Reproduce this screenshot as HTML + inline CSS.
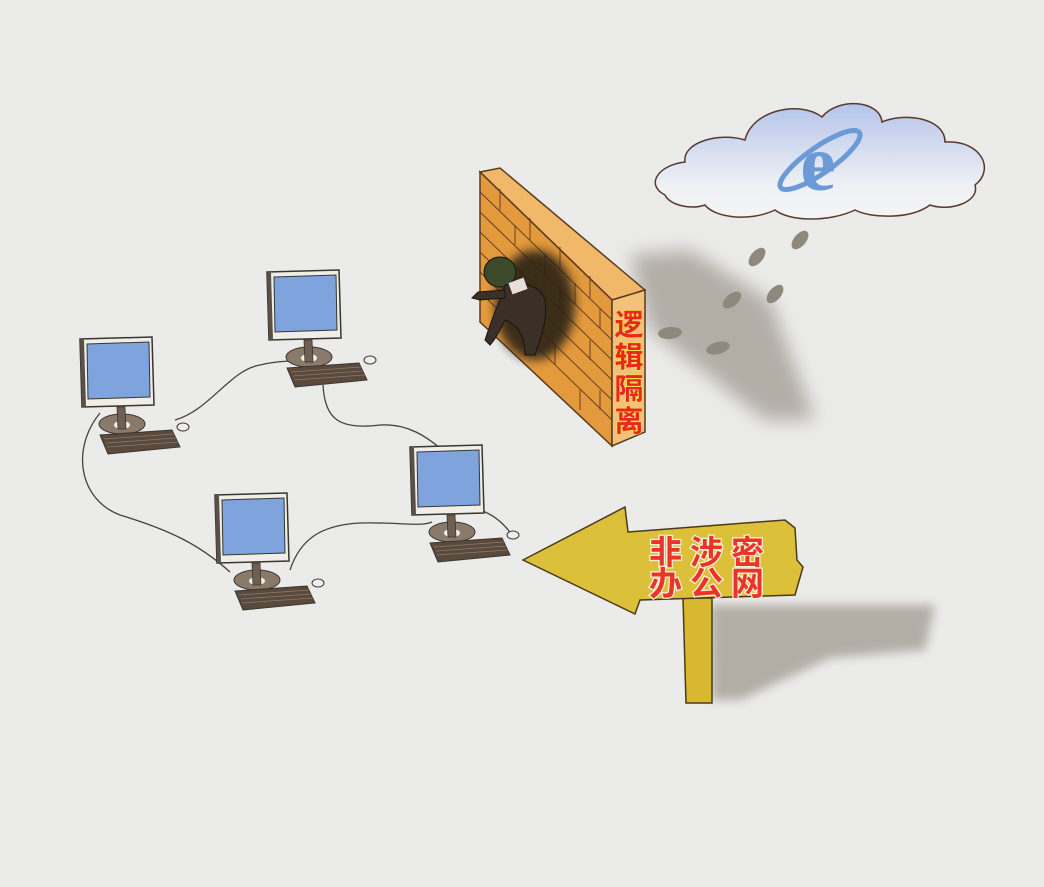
<!DOCTYPE html>
<html><head><meta charset="utf-8"><style>
html,body{margin:0;padding:0;background:#ebebea;}
svg{display:block}
</style></head><body>
<svg width="1044" height="887" viewBox="0 0 1044 887" xmlns="http://www.w3.org/2000/svg">
<defs>
<filter id="blur" x="-20%" y="-20%" width="140%" height="140%"><feGaussianBlur stdDeviation="9"/></filter>
<filter id="blur2"><feGaussianBlur stdDeviation="5"/></filter>
<linearGradient id="cloud" x1="0" y1="0" x2="0" y2="1"><stop offset="0" stop-color="#b4c4ea"/><stop offset="0.7" stop-color="#eef0f4"/><stop offset="1" stop-color="#f5f5f5"/></linearGradient>
<g id="pc">
  <polygon points="0,2 72,0 74,68 2,70" fill="#efefe8" stroke="#3a3530" stroke-width="1.5"/>
  <polygon points="0,2 4,3 6,70 2,70" fill="#5a5048"/>
  <polygon points="7,7 69,5 70,60 8,62" fill="#7fa3dc" stroke="#3a3530" stroke-width="1"/>
  <ellipse cx="42" cy="87" rx="23" ry="10" fill="#8a7a6a" stroke="#3a3530" stroke-width="1"/>
  <ellipse cx="42" cy="88" rx="8" ry="4" fill="#efefe8"/>
  <polygon points="37,70 45,70 46,92 38,92" fill="#6e5f52" stroke="#3a3530" stroke-width="0.8"/>
  <polygon points="20,98 92,93 100,110 28,117" fill="#5a4a3e" stroke="#3a3530" stroke-width="1"/>
  <path d="M24,102 L94,97 M26,106 L96,101 M27,110 L98,105" stroke="#8a7a6a" stroke-width="0.8"/>
  <ellipse cx="103" cy="90" rx="6" ry="4" fill="#eee" stroke="#3a3530" stroke-width="1"/>
</g>
</defs>
<rect width="1044" height="887" fill="#ebebea"/>

<polygon points="630,255 690,250 770,300 815,420 765,420 650,330" fill="#a09a90" filter="url(#blur)" opacity="0.75"/>
<g fill="#8f887c">
<ellipse cx="800" cy="240" rx="6" ry="11" transform="rotate(40 800 240)"/>
<ellipse cx="757" cy="257" rx="6" ry="11" transform="rotate(40 757 257)"/>
<ellipse cx="775" cy="294" rx="6" ry="11" transform="rotate(40 775 294)"/>
<ellipse cx="732" cy="300" rx="6" ry="11" transform="rotate(50 732 300)"/>
<ellipse cx="670" cy="333" rx="6" ry="12" transform="rotate(85 670 333)"/>
<ellipse cx="718" cy="348" rx="6" ry="12" transform="rotate(75 718 348)"/>
</g>

<path d="M665,195 C645,185 658,165 685,162 C682,142 720,132 745,140 C752,110 800,100 822,117 C838,97 880,100 882,122 C905,112 945,118 945,142 C982,140 995,170 975,185 C980,202 950,212 930,205 C910,220 870,218 855,210 C830,222 790,222 775,210 C750,222 715,218 705,205 C690,210 670,205 665,195 Z" fill="url(#cloud)" stroke="#5a3a30" stroke-width="1.5"/>
<g>
<text x="818" y="190" font-family="Liberation Serif, serif" font-weight="bold" font-size="80" fill="#6b9ad6" text-anchor="middle">e</text>
<ellipse cx="820" cy="160" rx="48" ry="13" transform="rotate(-35 820 160)" fill="none" stroke="#6b9ad6" stroke-width="5"/>
</g>

<polygon points="710,605 935,605 925,650 830,658 740,700 712,700" fill="#a09a90" filter="url(#blur2)" opacity="0.75"/>

<g fill="none" stroke="#4a4038" stroke-width="1.3">
<path d="M175,420 C210,410 230,370 260,365 C280,360 290,362 300,360"/>
<path d="M323,385 C325,420 340,430 380,425 C410,423 430,440 440,448"/>
<path d="M100,413 C70,450 80,500 120,515 C170,530 200,545 230,572"/>
<path d="M290,570 C300,540 320,525 360,523 C400,522 420,527 432,522"/>
<path d="M480,510 C495,515 505,525 512,535"/>
</g>

<use href="#pc" x="80" y="337"/>
<use href="#pc" x="267" y="270"/>
<use href="#pc" x="410" y="445"/>
<use href="#pc" x="215" y="493"/>

<polygon points="480,172 500,168 645,290 612,300" fill="#f0b868" stroke="#5a3a20" stroke-width="1.5"/>
<polygon points="480,172 612,300 612,446 480,322" fill="#e39a3c" stroke="#5a3a20" stroke-width="1.5"/>
<g stroke="#6a4020" stroke-width="1" fill="none">
<path d="M480,192 L612,320 M480,212 L612,340 M480,232 L612,360 M480,252 L612,380 M480,272 L612,400 M480,292 L612,420"/>
<path d="M500,189 L500,210 M530,218 L530,240 M560,247 L560,268 M590,276 L590,298 M515,225 L515,245 M545,254 L545,275 M575,283 L575,304 M600,308 L600,328 M520,270 L520,290 M560,290 L560,310 M590,340 L590,360 M555,345 L555,365 M600,390 L600,410 M580,390 L580,410"/>
</g>
<polygon points="612,300 645,290 645,432 612,446" fill="#f2c27a" stroke="#5a3a20" stroke-width="1.5"/>
<g font-family="Liberation Sans, Noto Sans CJK SC, sans-serif" font-weight="bold" font-size="29" fill="#e8281e" stroke="#f7e04a" stroke-width="1.2" paint-order="stroke" text-anchor="middle">
<text x="629" y="335">逻</text><text x="629" y="367">辑</text><text x="629" y="399">隔</text><text x="629" y="431">离</text>
</g>
<ellipse cx="535" cy="305" rx="40" ry="55" fill="#2a2018" filter="url(#blur2)" opacity="0.9"/>
<g fill="#3a3028" stroke="#1a140e" stroke-width="1">
<ellipse cx="500" cy="272" rx="16" ry="15" fill="#3a4a2a"/>
<path d="M505,285 C520,280 540,285 545,300 C548,320 540,340 535,355 L525,355 C525,340 520,325 505,320 C500,330 495,340 490,345 L485,340 C490,325 495,310 500,300 Z"/>
<path d="M505,290 L478,292 L472,298 L480,300 L505,298 Z"/>
</g>
<rect x="510" y="280" width="16" height="12" fill="#e8e0d8" transform="rotate(-20 518 286)"/>

<polygon points="683,598 712,598 712,703 686,703" fill="#d8b830" stroke="#4a3a1a" stroke-width="1.5"/>
<polygon points="523,560 625,507 628,532 785,520 795,528 797,560 803,567 795,595 640,600 635,614" fill="#dcc03a" stroke="#4a3a1a" stroke-width="1.5"/>
<g font-family="Liberation Sans, Noto Sans CJK SC, sans-serif" font-weight="bold" font-size="33" fill="#e8352a" stroke="#f8f2d8" stroke-width="2.5" paint-order="stroke">
<text x="649" y="564" letter-spacing="8">非涉密</text>
<text x="649" y="595" letter-spacing="8">办公网</text>
</g>
</svg>
</body></html>
